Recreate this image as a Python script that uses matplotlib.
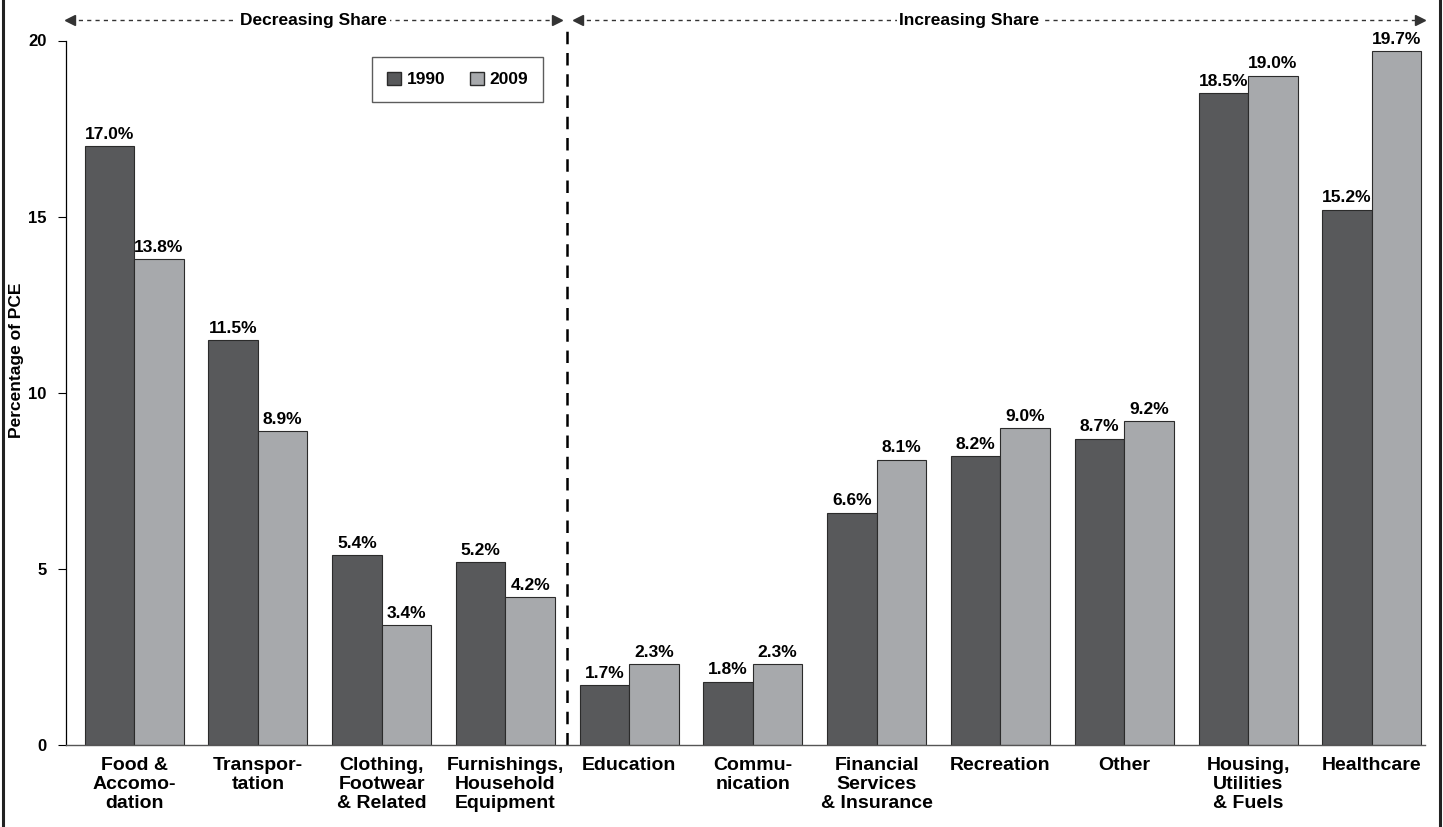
import matplotlib.pyplot as plt
import numpy as np
from matplotlib.lines import Line2D
from matplotlib.patches import Patch

plt.rcParams['font.family'] = ['Liberation Sans', 'DejaVu Sans']
plt.rcParams['font.weight'] = 'bold'

categories = [
    "Food &\nAccomo-\ndation", "Transpor-\ntation", "Clothing,\nFootwear\n& Related",
    "Furnishings,\nHousehold\nEquipment", "Education", "Commu-\nnication",
    "Financial\nServices\n& Insurance", "Recreation", "Other",
    "Housing,\nUtilities\n& Fuels", "Healthcare",
]
share_1990 = [17.0, 11.5, 5.4, 5.2, 1.7, 1.8, 6.6, 8.2, 8.7, 18.5, 15.2]
share_2009 = [13.8, 8.9, 3.4, 4.2, 2.3, 2.3, 8.1, 9.0, 9.2, 19.0, 19.7]
years = ["1990", "2009"]

dark = '#58595b'
light = '#a7a9ac'
edge = '#2b2b2b'

fig = plt.figure(figsize=(14.43, 8.27), dpi=100)
ax = fig.add_axes([66 / 1443, 1 - 745 / 827, (1425 - 66) / 1443, (745 - 40.5) / 827])

x = np.arange(len(categories))
w = 0.4
b1 = ax.bar(x - w / 2, share_1990, w, color=dark, edgecolor=edge, linewidth=0.8, label=years[0])
b2 = ax.bar(x + w / 2, share_2009, w, color=light, edgecolor=edge, linewidth=0.8, label=years[1])

for bars, vals in ((b1, share_1990), (b2, share_2009)):
    for rect, v in zip(bars, vals):
        ax.text(rect.get_x() + rect.get_width() / 2, v + 0.12, f"{v:.1f}%",
                ha='center', va='bottom', fontsize=12.5, fontweight='bold', clip_on=False)

ax.set_xlim(-0.55, 10.43)
ax.set_ylim(0, 20)
ax.set_yticks([0, 5, 10, 15, 20])
ax.tick_params(axis='y', labelsize=12, length=6, width=0.8, pad=8)
ax.set_xticks(x)
ax.set_xticklabels(categories, fontsize=14, fontweight='bold', linespacing=1.15)
ax.tick_params(axis='x', length=0, pad=9)
fig.text(17 / 1443, 1 - 360 / 827, "Percentage of PCE", rotation=90,
         ha='center', va='center', fontsize=12.5, fontweight='bold')

for s in ('top', 'right'):
    ax.spines[s].set_visible(False)
ax.spines['left'].set_linewidth(0.9)
ax.spines['bottom'].set_linewidth(1.0)
ax.spines['bottom'].set_color('#555555')

# divider between the decreasing and increasing groups
ax.plot([3.5, 3.5], [0, 20.35], color='black', lw=1.8, ls=(0, (5, 3.5)), clip_on=False)

# dashed double arrows with section titles
arrow_y = 20.57
for x0, x1, xt, label in ((-0.52, 3.42, 1.45, "Decreasing Share"),
                          (3.59, 10.39, 6.75, "Increasing Share")):
    ax.plot([x0, x1], [arrow_y, arrow_y], color='#333333', lw=1.0,
            ls=(0, (3, 3)), clip_on=False)
    ax.plot([x0], [arrow_y], marker='<', color='#333333', ms=7, clip_on=False)
    ax.plot([x1], [arrow_y], marker='>', color='#333333', ms=7, clip_on=False)
    ax.text(xt, arrow_y, label, ha='center', va='center', fontsize=12.5, fontweight='bold',
            bbox=dict(facecolor='white', edgecolor='none', pad=2), clip_on=False)

handles = [Patch(facecolor=dark, edgecolor=edge, label=years[0]),
           Patch(facecolor=light, edgecolor=edge, label=years[1])]
leg = ax.legend(handles=handles, ncol=2, loc='upper left',
                bbox_to_anchor=((372 - 66) / 1359, 1 - (57 - 40.5) / 704.5),
                borderaxespad=0,
                prop={'weight': 'bold', 'size': 12.5}, frameon=True, fancybox=False,
                edgecolor='#333333', handlelength=0.8, handleheight=0.8,
                handletextpad=0.35, columnspacing=1.4, borderpad=0.85)
leg.get_frame().set_linewidth(1.0)

# vertical rules at the figure edges
fig.add_artist(Line2D([3 / 1443, 3 / 1443], [0, 1], color='#222222', lw=2.2))
fig.add_artist(Line2D([1440 / 1443, 1440 / 1443], [0, 1], color='#222222', lw=2.2))

fig.savefig('out.png', dpi=100, facecolor='white')
